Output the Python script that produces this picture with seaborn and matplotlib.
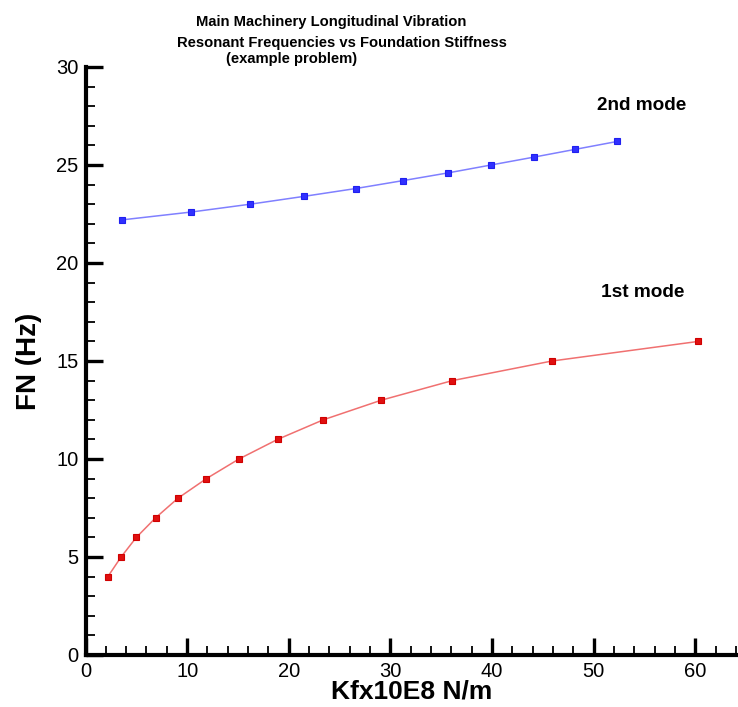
import matplotlib
matplotlib.use("Agg")
import matplotlib.pyplot as plt
from matplotlib.ticker import MultipleLocator
from matplotlib import font_manager
import seaborn as sns
import pandas as pd

# Foundation stiffness (x 10^8 N/m) and resonant frequency (Hz)
mode1_k = [2.2, 3.5, 5.0, 6.9, 9.1, 11.9, 15.1, 18.9, 23.4, 29.1, 36.1, 45.9, 60.3]
mode1_fn = [4.0, 5.0, 6.0, 7.0, 8.0, 9.0, 10.0, 11.0, 12.0, 13.0, 14.0, 15.0, 16.0]
mode2_k = [3.6, 10.4, 16.2, 21.5, 26.6, 31.2, 35.7, 39.9, 44.1, 48.2, 52.3]
mode2_fn = [22.2, 22.6, 23.0, 23.4, 23.8, 24.2, 24.6, 25.0, 25.4, 25.8, 26.2]

title_lines = ["Main Machinery Longitudinal Vibration",
               "Resonant Frequencies vs Foundation Stiffness",
               "(example problem)"]

sns.set_style("ticks")
plt.rcParams["font.family"] = ["Liberation Sans", "DejaVu Sans"]
for key in ("text.color", "axes.labelcolor", "xtick.color", "ytick.color"):
    plt.rcParams[key] = "black"

installed = {f.name for f in font_manager.fontManager.ttflist}
narrow = "Liberation Sans Narrow" if "Liberation Sans Narrow" in installed else "Liberation Sans"
title_size = 13 if narrow == "Liberation Sans Narrow" else 10.6

df1 = pd.DataFrame({"k": mode1_k, "fn": mode1_fn})
df2 = pd.DataFrame({"k": mode2_k, "fn": mode2_fn})

W, H = 738, 707
fig = plt.figure(figsize=(W / 100, H / 100), dpi=100)
ax = fig.add_axes([85.5 / W, 52 / H, (W - 85.5) / W, 588 / H])

sns.lineplot(data=df1, x="k", y="fn", ax=ax, sort=False, color="#f07070", lw=1.1,
             marker="s", markersize=4.5, markerfacecolor="#e01010",
             markeredgecolor="#d00000", markeredgewidth=0.8)
sns.lineplot(data=df2, x="k", y="fn", ax=ax, sort=False, color="#8080ff", lw=1.1,
             marker="s", markersize=4.5, markerfacecolor="#3030ff",
             markeredgecolor="#2020f0", markeredgewidth=0.8)

ax.set_xlim(0, 64.2)
ax.set_ylim(0, 30)
ax.xaxis.set_major_locator(MultipleLocator(10))
ax.xaxis.set_minor_locator(MultipleLocator(2))
ax.yaxis.set_major_locator(MultipleLocator(5))
ax.yaxis.set_minor_locator(MultipleLocator(1))

for side in ("top", "right"):
    ax.spines[side].set_visible(False)
for side in ("left", "bottom"):
    ax.spines[side].set_linewidth(3)
    ax.spines[side].set_color("black")

ax.tick_params(which="both", bottom=True, left=True, top=False, right=False)
ax.tick_params(which="major", direction="in", length=12, width=2.4,
               labelsize=14.5, pad=5, colors="black")
ax.tick_params(which="minor", direction="in", length=6.5, width=1.3, colors="black")

ax.set_xlabel("Kfx10E8 N/m", fontsize=19, fontweight="bold", labelpad=-1)
ax.set_ylabel("FN (Hz)", fontsize=20, fontweight="bold", labelpad=10)

# Title block, one text per line
for txt, x0, y0 in zip(title_lines, [196, 177, 226], [26, 47, 63]):
    fig.text(x0 / W, 1 - y0 / H, txt, fontsize=title_size, fontweight="bold",
             family=[narrow, "DejaVu Sans"], ha="left", va="baseline")

fig.text(642 / W, 1 - 105 / H, "2nd mode", fontsize=13.7, fontweight="bold",
         ha="center", va="center")
fig.text(643 / W, 1 - 292 / H, "1st mode", fontsize=13.7, fontweight="bold",
         ha="center", va="center")

fig.savefig("out.png", dpi=100)
